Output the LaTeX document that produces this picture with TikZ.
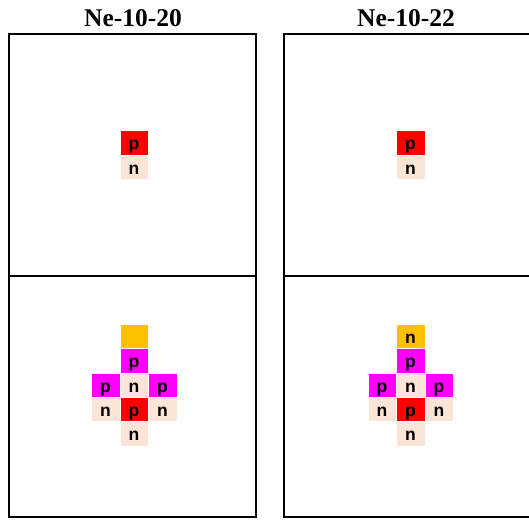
\documentclass[tikz,border=0pt]{standalone}
\usepackage{fontspec}
\setmainfont{Liberation Serif}
\newfontfamily\cellfont{Liberation Sans}
\definecolor{cred}{HTML}{FF0000}
\definecolor{corange}{HTML}{FFC000}
\definecolor{cmag}{HTML}{FF00FF}
\definecolor{cpeach}{HTML}{FCE4D6}
\tikzset{
  frame/.style={draw=black, line width=2pt},
  title/.style={anchor=base, font=\fontsize{25.5}{28}\selectfont\bfseries},
  cell/.style={rectangle, draw=white, line width=0.4pt, inner sep=0pt,
    minimum width=28.5pt, minimum height=24.3pt, text height=14pt, text depth=0pt,
    font=\cellfont\fontsize{17.5}{20}\selectfont\bfseries},
  pr/.style={cell, fill=cred},
  pm/.style={cell, fill=cmag},
  nn/.style={cell, fill=cpeach},
  no/.style={cell, fill=corange}
}
\begin{document}
\begin{tikzpicture}[x=1pt,y=-1pt]
\useasboundingbox (0,0) rectangle (529,519);
% titles
\node[title] (t1) at (133,26.7) {Ne-10-20};
\node[title] (t2) at (406,26.7) {Ne-10-22};
% frames
\draw[frame] (9,34) rectangle (256,517);
\draw[frame] (9,276) -- (256,276);
\draw[frame] (284,34) rectangle (532,517);
\draw[frame] (284,276) -- (532,276);
% top panels
\node[pr] (a1) at (134,142.8) {p};
\node[nn] (a2) at (134,167.1) {n};
\node[pr] (b1) at (410.5,142.8) {p};
\node[nn] (b2) at (410.5,167.1) {n};
% bottom left cluster
\node[no] (c0) at (134,336.45) {};
\node[pm] (c1) at (134,360.75) {p};
\node[pm] (c2l) at (105.5,385.05) {p};
\node[nn] (c2) at (134,385.05) {n};
\node[pm] (c2r) at (162.5,385.05) {p};
\node[nn] (c3l) at (105.5,409.35) {n};
\node[pr] (c3) at (134,409.35) {p};
\node[nn] (c3r) at (162.5,409.35) {n};
\node[nn] (c4) at (134,433.65) {n};
% bottom right cluster
\node[no] (d0) at (410.5,336.45) {n};
\node[pm] (d1) at (410.5,360.75) {p};
\node[pm] (d2l) at (382,385.05) {p};
\node[nn] (d2) at (410.5,385.05) {n};
\node[pm] (d2r) at (439,385.05) {p};
\node[nn] (d3l) at (382,409.35) {n};
\node[pr] (d3) at (410.5,409.35) {p};
\node[nn] (d3r) at (439,409.35) {n};
\node[nn] (d4) at (410.5,433.65) {n};
\end{tikzpicture}
\end{document}
